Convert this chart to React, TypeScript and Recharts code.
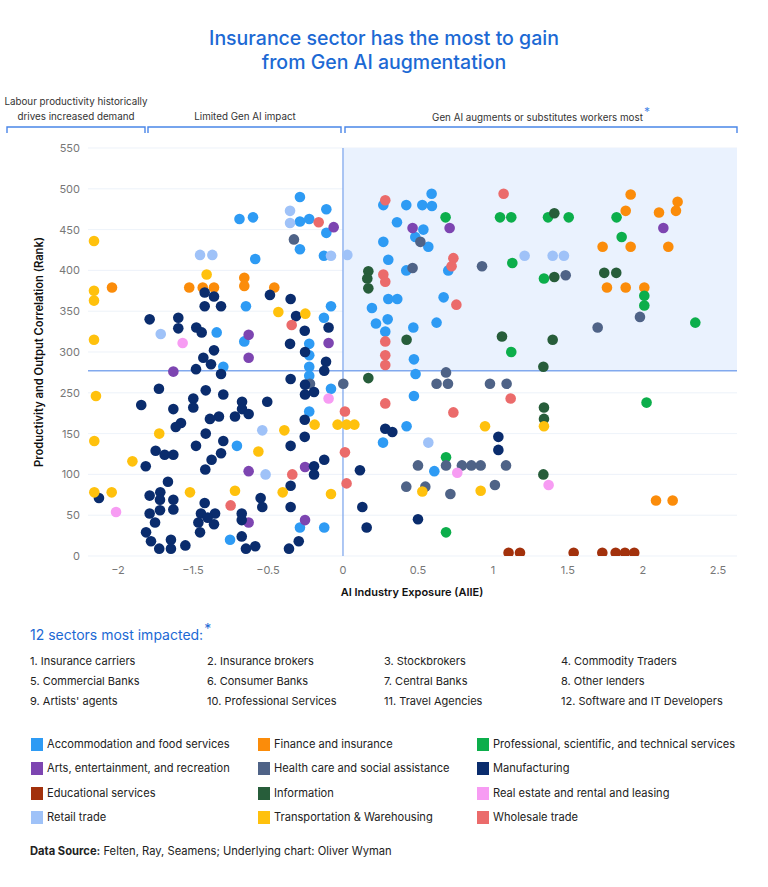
import React from "react";
import {
  ScatterChart,
  Scatter,
  XAxis,
  YAxis,
  CartesianGrid,
  ReferenceArea,
  ReferenceLine,
} from "recharts";

// ---- axis ticks (positions on the linear scale, and the labels printed on them) ----
const xTickValues = [-1.5, -1, -0.5, 0, 0.5, 1, 1.5, 2, 2.5];
const xTickLabels = ["−2", "−1.5", "−0.5", "0", "0.5", "1", "1.5", "2", "2.5"];
const yTickValues = [0, 50, 100, 150, 200, 250, 300, 350, 400, 450, 500];
const yTickLabels = ["0", "50", "100", "150", "250", "300", "350", "400", "450", "500", "550"];
const xDomain = [-1.7, 2.627];
const yDomain = [0, 500];
const quadrantX = 0;
const quadrantY = 227;

// ---- series ----
const accommodation = [
  { x: -0.69, y: 413 }, { x: -0.6, y: 415 }, { x: -0.585, y: 364 }, { x: -0.647, y: 306 },
  { x: -0.842, y: 274 }, { x: -0.658, y: 263 }, { x: -0.798, y: 232 }, { x: -0.707, y: 135 },
  { x: -0.753, y: 20 }, { x: -0.287, y: 440 }, { x: -0.111, y: 425 }, { x: -0.287, y: 410 },
  { x: -0.225, y: 413 }, { x: -0.111, y: 396 }, { x: -0.287, y: 376 }, { x: -0.127, y: 368 },
  { x: -0.08, y: 306 }, { x: -0.127, y: 292 }, { x: -0.225, y: 260 }, { x: 0.269, y: 430 },
  { x: 0.591, y: 444 }, { x: 0.422, y: 430 }, { x: 0.529, y: 430 }, { x: 0.593, y: 429 },
  { x: 0.36, y: 409 }, { x: 0.536, y: 400 }, { x: 0.482, y: 391 }, { x: 0.569, y: 379 },
  { x: 0.269, y: 385 }, { x: 0.302, y: 363 }, { x: 0.702, y: 350 }, { x: 0.422, y: 350 },
  { x: 0.302, y: 315 }, { x: 0.362, y: 315 }, { x: 0.671, y: 317 }, { x: 0.193, y: 304 },
  { x: 0.22, y: 285 }, { x: 0.298, y: 290 }, { x: 0.469, y: 280 }, { x: 0.624, y: 286 },
  { x: 0.282, y: 275 }, { x: -0.225, y: 246 }, { x: -0.225, y: 232 }, { x: 0.473, y: 241 },
  { x: 0.484, y: 223 }, { x: -0.225, y: 221 }, { x: -0.08, y: 205 }, { x: 0.473, y: 196 },
  { x: -0.225, y: 177 }, { x: 0.424, y: 159 }, { x: 0.267, y: 139 }, { x: 0.609, y: 104 },
  { x: -0.287, y: 35 }, { x: -0.125, y: 35 },
];
const finance = [
  { x: -1.54, y: 329 }, { x: -1.025, y: 329 }, { x: -0.935, y: 329 }, { x: -0.86, y: 329 },
  { x: -0.658, y: 341 }, { x: -0.658, y: 331 }, { x: -0.458, y: 329 }, { x: 1.918, y: 443 },
  { x: 2.231, y: 434 }, { x: 1.885, y: 423 }, { x: 2.107, y: 421 }, { x: 2.22, y: 423 },
  { x: 1.731, y: 379 }, { x: 1.918, y: 379 }, { x: 2.169, y: 379 }, { x: 1.76, y: 329 },
  { x: 1.885, y: 329 }, { x: 2.009, y: 329 }, { x: 2.087, y: 68 }, { x: 2.198, y: 68 },
];
const professional = [
  { x: 0.684, y: 415 }, { x: 1.047, y: 415 }, { x: 1.122, y: 415 }, { x: 1.367, y: 415 },
  { x: 1.505, y: 415 }, { x: 1.824, y: 415 }, { x: 1.858, y: 391 }, { x: 1.129, y: 359 },
  { x: 1.34, y: 340 }, { x: 2.009, y: 319 }, { x: 2.009, y: 307 }, { x: 2.349, y: 286 },
  { x: 1.122, y: 250 }, { x: 2.024, y: 188 }, { x: 0.687, y: 121 }, { x: 0.687, y: 29 },
];
const arts = [
  { x: -0.629, y: 271 }, { x: -0.629, y: 243 }, { x: -1.131, y: 226 }, { x: -0.629, y: 104 },
  { x: -0.629, y: 41 }, { x: -0.062, y: 403 }, { x: -0.096, y: 261 }, { x: 0.464, y: 402 },
  { x: 0.711, y: 402 }, { x: 2.136, y: 402 }, { x: -0.253, y: 109 }, { x: -0.253, y: 44 },
];
const health = [
  { x: -0.327, y: 388 }, { x: 0.516, y: 385 }, { x: 0.464, y: 353 }, { x: 0.927, y: 355 },
  { x: 0.687, y: 225 }, { x: -0.22, y: 211 }, { x: 0.002, y: 211 }, { x: 0.624, y: 211 },
  { x: 0.7, y: 211 }, { x: 0.98, y: 211 }, { x: 0.5, y: 111 }, { x: 0.687, y: 111 },
  { x: 0.793, y: 111 }, { x: 0.856, y: 111 }, { x: 0.918, y: 111 }, { x: 0.422, y: 85 },
  { x: 0.549, y: 85 }, { x: 0.716, y: 76 }, { x: 1.013, y: 87 }, { x: 1.485, y: 344 },
  { x: 1.98, y: 293 }, { x: 1.698, y: 280 }, { x: 1.091, y: 211 }, { x: 1.087, y: 111 },
];
const manufacturing = [
  { x: -0.922, y: 323 }, { x: -0.86, y: 318 }, { x: -0.922, y: 306 }, { x: -0.813, y: 306 },
  { x: -1.289, y: 290 }, { x: -1.098, y: 292 }, { x: -1.098, y: 279 }, { x: -0.978, y: 280 },
  { x: -0.942, y: 274 }, { x: -0.86, y: 252 }, { x: -0.931, y: 243 }, { x: -0.88, y: 235 },
  { x: -0.98, y: 229 }, { x: -0.813, y: 223 }, { x: -1.227, y: 205 }, { x: -0.915, y: 203 },
  { x: -0.798, y: 198 }, { x: -0.998, y: 193 }, { x: -1.345, y: 185 }, { x: -0.998, y: 182 },
  { x: -1.131, y: 180 }, { x: -0.673, y: 189 }, { x: -0.673, y: 180 }, { x: -0.629, y: 174 },
  { x: -0.72, y: 171 }, { x: -0.827, y: 171 }, { x: -0.887, y: 168 }, { x: -1.08, y: 163 },
  { x: -1.115, y: 158 }, { x: -0.915, y: 150 }, { x: -0.798, y: 141 }, { x: -0.98, y: 135 },
  { x: -1.249, y: 129 }, { x: -1.189, y: 124 }, { x: -1.131, y: 124 }, { x: -0.813, y: 126 },
  { x: -0.876, y: 118 }, { x: -1.315, y: 110 }, { x: -0.918, y: 106 }, { x: -1.167, y: 91 },
  { x: -1.627, y: 71 }, { x: -1.289, y: 74 }, { x: -1.218, y: 78 }, { x: -1.22, y: 69 },
  { x: -1.131, y: 69 }, { x: -0.922, y: 65 }, { x: -0.549, y: 71 }, { x: -0.538, y: 60 },
  { x: -1.289, y: 52 }, { x: -1.22, y: 56 }, { x: -1.131, y: 57 }, { x: -0.947, y: 52 },
  { x: -0.853, y: 52 }, { x: -0.675, y: 52 }, { x: -0.902, y: 47 }, { x: -0.675, y: 44 },
  { x: -1.253, y: 41 }, { x: -0.964, y: 41 }, { x: -0.86, y: 39 }, { x: -1.313, y: 29 },
  { x: -0.953, y: 29 }, { x: -1.28, y: 18 }, { x: -1.147, y: 20 }, { x: -0.675, y: 24 },
  { x: -1.225, y: 9 }, { x: -1.147, y: 9 }, { x: -1.051, y: 13 }, { x: -0.647, y: 9 },
  { x: -0.585, y: 12 }, { x: -0.487, y: 320 }, { x: -0.349, y: 315 }, { x: -0.313, y: 294 },
  { x: -0.255, y: 276 }, { x: -0.096, y: 280 }, { x: -0.353, y: 260 }, { x: -0.253, y: 250 },
  { x: -0.113, y: 238 }, { x: -0.125, y: 227 }, { x: -0.349, y: 217 }, { x: -0.253, y: 210 },
  { x: -0.253, y: 198 }, { x: -0.193, y: 201 }, { x: -0.505, y: 189 }, { x: -0.255, y: 167 },
  { x: 0.282, y: 156 }, { x: 0.329, y: 152 }, { x: -0.255, y: 146 }, { x: 1.036, y: 146 },
  { x: 1.036, y: 130 }, { x: -0.349, y: 135 }, { x: -0.125, y: 118 }, { x: -0.193, y: 110 },
  { x: -0.193, y: 100 }, { x: 0.113, y: 105 }, { x: -0.349, y: 86 }, { x: -0.349, y: 60 },
  { x: 0.129, y: 60 }, { x: 0.5, y: 45 }, { x: 0.158, y: 35 }, { x: -0.295, y: 18 },
  { x: -0.36, y: 9 },
];
const educational = [
  { x: 1.104, y: 4 }, { x: 1.18, y: 4 }, { x: 1.538, y: 4 }, { x: 1.729, y: 4 },
  { x: 1.818, y: 4 }, { x: 1.88, y: 4 }, { x: 1.942, y: 4 },
];
const information = [
  { x: 0.169, y: 349 }, { x: 0.162, y: 340 }, { x: 0.169, y: 328 }, { x: 0.424, y: 265 },
  { x: 1.409, y: 420 }, { x: 1.409, y: 342 }, { x: 1.742, y: 347 }, { x: 1.822, y: 347 },
  { x: 1.06, y: 269 }, { x: 1.398, y: 265 }, { x: 0.169, y: 218 }, { x: 1.336, y: 232 },
  { x: 1.34, y: 182 }, { x: 1.34, y: 168 }, { x: 1.336, y: 100 },
];
const realEstate = [
  { x: -1.069, y: 261 }, { x: -0.096, y: 193 }, { x: 0.762, y: 102 }, { x: 1.371, y: 87 },
  { x: -1.513, y: 54 },
];
const retail = [
  { x: -0.953, y: 369 }, { x: -0.871, y: 369 }, { x: -1.215, y: 272 }, { x: -0.353, y: 423 },
  { x: -0.353, y: 408 }, { x: -0.08, y: 368 }, { x: 0.029, y: 369 }, { x: 1.211, y: 368 },
  { x: 1.398, y: 368 }, { x: 1.473, y: 368 }, { x: -0.538, y: 154 }, { x: 0.569, y: 139 },
  { x: -0.516, y: 100 },
];
const transportation = [
  { x: -1.66, y: 386 }, { x: -1.66, y: 325 }, { x: -1.66, y: 313 }, { x: -1.66, y: 265 },
  { x: -0.909, y: 345 }, { x: -0.431, y: 299 }, { x: -0.251, y: 297 }, { x: -1.647, y: 196 },
  { x: -1.225, y: 150 }, { x: -1.658, y: 141 }, { x: -1.404, y: 116 }, { x: -1.658, y: 78 },
  { x: -1.542, y: 78 }, { x: -1.02, y: 78 }, { x: -0.72, y: 80 }, { x: -0.189, y: 161 },
  { x: -0.036, y: 161 }, { x: 0.024, y: 161 }, { x: 0.076, y: 161 }, { x: 0.947, y: 159 },
  { x: -0.391, y: 154 }, { x: -0.564, y: 128 }, { x: 0.529, y: 79 }, { x: 0.918, y: 80 },
  { x: -0.402, y: 78 }, { x: -0.08, y: 76 }, { x: 1.34, y: 159 },
];
const wholesale = [
  { x: -0.162, y: 409 }, { x: 0.282, y: 436 }, { x: 0.736, y: 365 }, { x: 0.724, y: 355 },
  { x: 0.269, y: 345 }, { x: 0.282, y: 336 }, { x: 0.756, y: 308 }, { x: -0.342, y: 283 },
  { x: 0.282, y: 263 }, { x: 0.282, y: 246 }, { x: 0.282, y: 234 }, { x: 0.282, y: 187 },
  { x: 0.736, y: 176 }, { x: 0.013, y: 177 }, { x: 0.013, y: 127 }, { x: -0.338, y: 100 },
  { x: 0.024, y: 89 }, { x: -0.749, y: 62 }, { x: 1.071, y: 444 }, { x: 1.118, y: 193 },
];

const sectors = [
  { name: "Accommodation and food services", color: "#2E9BF4", data: accommodation },
  { name: "Finance and insurance", color: "#FB8C0A", data: finance },
  { name: "Professional, scientific, and technical services", color: "#0CAE4B", data: professional },
  { name: "Arts, entertainment, and recreation", color: "#7D45B1", data: arts },
  { name: "Health care and social assistance", color: "#4F6387", data: health },
  { name: "Manufacturing", color: "#0A2C6D", data: manufacturing },
  { name: "Educational services", color: "#A2310C", data: educational },
  { name: "Information", color: "#275D3A", data: information },
  { name: "Real estate and rental and leasing", color: "#F79CF3", data: realEstate },
  { name: "Retail trade", color: "#9FC2F8", data: retail },
  { name: "Transportation & Warehousing", color: "#FFC10D", data: transportation },
  { name: "Wholesale trade", color: "#EB6B6B", data: wholesale },
];

const impacted = [
  "1. Insurance carriers", "2. Insurance brokers", "3. Stockbrokers", "4. Commodity Traders",
  "5. Commercial Banks", "6. Consumer Banks", "7. Central Banks", "8. Other lenders",
  "9. Artists' agents", "10. Professional Services", "11. Travel Agencies", "12. Software and IT Developers",
];

const FONT = "Inter, 'Noto Sans', 'DejaVu Sans', sans-serif";
const BLUE = "#1C69D4";
const BRACKET = "#4A86E8";

const Dot = (color: string) => (props: any) => {
  if (props.cx == null || props.cy == null) return <g />;
  return <circle cx={props.cx} cy={props.cy} r={5.3} fill={color} />;
};

const abs = (left: number, top: number, extra: React.CSSProperties = {}): React.CSSProperties => ({
  position: "absolute",
  left,
  top,
  ...extra,
});

export default function App() {
  const listCols = [30, 207, 384, 561];
  const listRows = [653, 673, 693];
  const legCols = [31, 258, 477];
  const legRows = [737, 761, 786, 810];

  return (
    <div
      style={{
        position: "absolute",
        left: 0,
        top: 0,
        width: 768,
        height: 887,
        background: "#fff",
        fontFamily: FONT,
        color: "#222",
        overflow: "hidden",
      }}
    >
      {/* Title */}
      <div
        style={abs(0, 26, {
          width: 768,
          textAlign: "center",
          color: BLUE,
          fontSize: 19.5,
          fontWeight: 500,
          lineHeight: "24px",
        })}
      >
        Insurance sector has the most to gain
        <br />
        from Gen AI augmentation
      </div>

      {/* Bracket labels */}
      <div style={abs(0, 94, { width: 152, textAlign: "center", fontSize: 9.8, lineHeight: "15px", color: "#333" })}>
        Labour productivity historically
        <br />
        drives increased demand
      </div>
      <div style={abs(148, 109, { width: 194, textAlign: "center", fontSize: 9.8, lineHeight: "15px", color: "#333" })}>
        Limited Gen AI impact
      </div>
      <div style={abs(345, 109, { width: 392, textAlign: "center", fontSize: 9.8, lineHeight: "15px", color: "#333" })}>
        Gen AI augments or substitutes workers most
        <span style={{ color: BRACKET, fontSize: 12, position: "relative", top: -5, marginLeft: 1 }}>*</span>
      </div>
      <svg style={abs(0, 0)} width={768} height={140}>
        {[
          [7, 145],
          [148, 341],
          [345, 737],
        ].map(([a, b], i) => (
          <path
            key={i}
            d={`M${a},133 L${a},127 L${b},127 L${b},133`}
            fill="none"
            stroke={BRACKET}
            strokeWidth={1.4}
          />
        ))}
      </svg>

      {/* Chart */}
      <div style={abs(0, 0)}>
        <ScatterChart width={768} height={600} margin={{ top: 148, right: 31, bottom: 14, left: 28 }}>
          <ReferenceArea
            x1={quadrantX}
            x2={xDomain[1]}
            y1={quadrantY}
            y2={yDomain[1]}
            fill="#EAF2FE"
            fillOpacity={1}
            stroke="none"
            ifOverflow="hidden"
          />
          <CartesianGrid vertical={false} stroke="#E9EFF8" strokeOpacity={0.8} />
          <XAxis
            type="number"
            dataKey="x"
            domain={xDomain}
            ticks={xTickValues}
            allowDataOverflow
            axisLine={false}
            tickLine={false}
            tickMargin={4}
            height={30}
            tick={{ fill: "#777", fontSize: 11, fontFamily: FONT }}
            tickFormatter={(v: number) => xTickLabels[xTickValues.indexOf(v)] ?? String(v)}
          />
          <YAxis
            type="number"
            dataKey="y"
            domain={yDomain}
            ticks={yTickValues}
            allowDataOverflow
            axisLine={false}
            tickLine={false}
            width={60}
            tick={{ fill: "#777", fontSize: 11, fontFamily: FONT }}
            tickFormatter={(v: number) => yTickLabels[yTickValues.indexOf(v)] ?? String(v)}
          />
          <ReferenceLine x={quadrantX} stroke="#82A9EE" strokeWidth={1.3} />
          <ReferenceLine y={quadrantY} stroke="#82A9EE" strokeWidth={1.3} />
          {sectors.map((s) => (
            <Scatter
              key={s.name}
              name={s.name}
              data={s.data}
              fill={s.color}
              shape={Dot(s.color)}
              isAnimationActive={false}
            />
          ))}
        </ScatterChart>
      </div>

      {/* Axis titles */}
      <div
        style={abs(39 - 150, 352 - 8, {
          width: 300,
          height: 16,
          lineHeight: "16px",
          textAlign: "center",
          fontSize: 11.2,
          fontWeight: 600,
          color: "#111",
          transform: "rotate(-90deg)",
          transformOrigin: "150px 8px",
        })}
      >
        Productivity and Output Correlation (Rank)
      </div>
      <div
        style={abs(262, 584, {
          width: 300,
          textAlign: "center",
          fontSize: 11,
          fontWeight: 600,
          color: "#111",
          lineHeight: "16px",
        })}
      >
        AI Industry Exposure (AIIE)
      </div>

      {/* 12 sectors list */}
      <div style={abs(30, 626, { fontSize: 14, color: BLUE, lineHeight: "18px" })}>
        12 sectors most impacted:
        <span style={{ fontSize: 14, position: "relative", top: -6, marginLeft: 1 }}>*</span>
      </div>
      {impacted.map((t, i) => (
        <div
          key={t}
          style={abs(listCols[i % 4], listRows[Math.floor(i / 4)], {
            fontSize: 11,
            lineHeight: "16px",
            color: "#222",
            whiteSpace: "nowrap",
          })}
        >
          {t}
        </div>
      ))}

      {/* Legend */}
      {sectors.map((s, i) => (
        <div
          key={s.name}
          style={abs(legCols[i % 3], legRows[Math.floor(i / 3)], {
            display: "flex",
            alignItems: "center",
            fontSize: 11.1,
            lineHeight: "14px",
            whiteSpace: "nowrap",
            color: "#222",
          })}
        >
          <span
            style={{
              display: "inline-block",
              width: 12,
              height: 13,
              background: s.color,
              marginRight: 4,
            }}
          />
          {s.name}
        </div>
      ))}

      {/* Source */}
      <div style={abs(30, 843, { fontSize: 11.2, lineHeight: "16px", color: "#222" })}>
        <span style={{ fontWeight: 700 }}>Data Source:</span> Felten, Ray, Seamens; Underlying chart: Oliver Wyman
      </div>
    </div>
  );
}
